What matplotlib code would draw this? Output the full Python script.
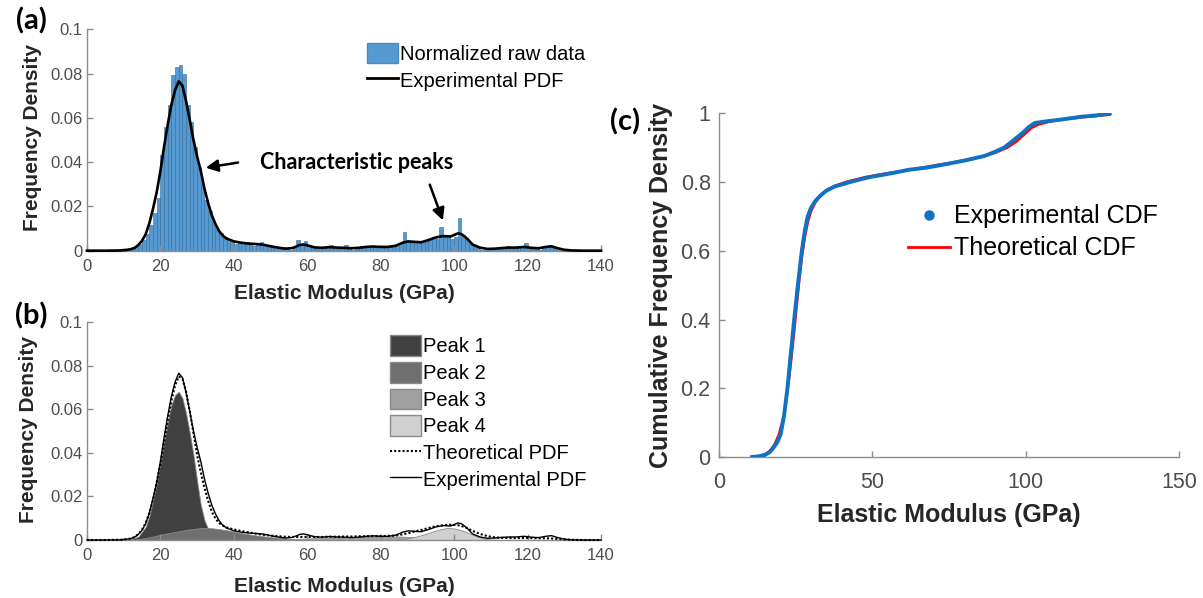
import numpy as np
import matplotlib
matplotlib.use("Agg")
import matplotlib.pyplot as plt              # noqa: E402
from matplotlib.lines import Line2D          # noqa: E402
from matplotlib.patches import Patch         # noqa: E402

plt.rcParams["font.family"] = ["Liberation Sans", "DejaVu Sans"]

AX_GRAY = "#8c8c8c"
TICK_GRAY = "#4d4d4d"
LABEL_GRAY = "#262626"
HIST_BLUE = "#5599d0"
CDF_BLUE = "#0f72c4"
PEAK_COLORS = ["#404040", "#6f6f6f", "#a0a0a0", "#d0d0d0"]

# ---- (a) normalized histogram, 1 GPa bins starting at 10 GPa ----
hist_start = 10
hist_heights = [
    0.0003, 0.0005, 0.001, 0.0018, 0.003, 0.005, 0.0075, 0.0115, 0.017, 0.024,   # 10-19
    0.043, 0.056, 0.066, 0.0795, 0.083, 0.084, 0.080, 0.066, 0.058, 0.047,        # 20-29
    0.038, 0.030, 0.023, 0.018, 0.013, 0.010, 0.008, 0.006, 0.005, 0.004,         # 30-39
    0.003, 0.004, 0.003, 0.004, 0.003, 0.002, 0.003, 0.004, 0.002, 0.002,         # 40-49
    0.002, 0.0015, 0.001, 0.0015, 0.001, 0.0005, 0.001, 0.005, 0.0025, 0.0045,    # 50-59
    0.002, 0.0015, 0.001, 0.0015, 0.001, 0.0015, 0.0025, 0.001, 0.001, 0.0015,    # 60-69
    0.0025, 0.001, 0.0005, 0.001, 0.001, 0.0015, 0.002, 0.0015, 0.002, 0.0015,    # 70-79
    0.002, 0.001, 0.0015, 0.002, 0.002, 0.003, 0.0085, 0.004, 0.0045, 0.004,      # 80-89
    0.0035, 0.004, 0.0045, 0.005, 0.006, 0.0055, 0.0105, 0.006, 0.0065, 0.0055,  # 90-99
    0.006, 0.0148, 0.007, 0.0055, 0.003, 0.002, 0.001, 0.0005, 0.0005, 0.0005,    # 100-109
    0.0005, 0.001, 0.0015, 0.001, 0.002, 0.001, 0.0015, 0.001, 0.0015, 0.0035,    # 110-119
    0.0015, 0.001, 0.001, 0.0005, 0.0015, 0.002, 0.002, 0.001, 0.0003,            # 120-128
]

# experimental PDF (same curve in a and b)
pdf_x = [0, 5, 9, 11, 12, 13, 14, 15, 16, 17, 18, 19, 20, 21, 22, 23, 24, 25, 26, 27,
         28, 29, 30, 31, 32, 33, 34, 35, 36, 37, 38, 40, 42, 44, 46, 48, 50, 52, 54, 56,
         58, 59, 60, 62, 64, 66, 68, 70, 72, 74, 76, 78, 80, 82, 84, 86, 87.5, 89, 91, 93,
         95, 97, 99, 101, 102, 103.5, 105, 107, 109, 111, 113, 115, 117, 119, 121, 123, 125,
         126.5, 128, 130, 132, 135, 140]
pdf_exp = [0, 0, 0.0001, 0.0004, 0.0007, 0.0013, 0.0026, 0.0045, 0.0075, 0.0125, 0.019,
           0.0265, 0.036, 0.047, 0.057, 0.066, 0.0725, 0.0765, 0.0745, 0.0675, 0.059, 0.050,
           0.0425, 0.036, 0.028, 0.0215, 0.016, 0.012, 0.0088, 0.0068, 0.0055, 0.0042, 0.0036,
           0.0032, 0.003, 0.0027, 0.002, 0.0014, 0.0009, 0.0012, 0.0026, 0.0028, 0.0024,
           0.0015, 0.0013, 0.0016, 0.0014, 0.0013, 0.0011, 0.0013, 0.0017, 0.0019, 0.0017,
           0.0017, 0.0022, 0.0036, 0.0042, 0.004, 0.0038, 0.0048, 0.006, 0.0066, 0.0064,
           0.0078, 0.0075, 0.0055, 0.0028, 0.0014, 0.0008, 0.0009, 0.0012, 0.0014, 0.0014,
           0.0017, 0.0013, 0.0011, 0.0017, 0.002, 0.0012, 0.0004, 0.0001, 0, 0]
pdf_theo = [0, 0, 0.0001, 0.0004, 0.0007, 0.0014, 0.0027, 0.0047, 0.0078, 0.0125, 0.0188,
            0.0265, 0.035, 0.045, 0.055, 0.064, 0.071, 0.075, 0.074, 0.068, 0.059, 0.049,
            0.039, 0.031, 0.024, 0.018, 0.013, 0.0098, 0.0078, 0.0066, 0.0058, 0.0048, 0.0041,
            0.0035, 0.0029, 0.0024, 0.002, 0.0017, 0.0015, 0.0014, 0.0014, 0.0014, 0.0014,
            0.0014, 0.0014, 0.0015, 0.0015, 0.0016, 0.0016, 0.0017, 0.0017, 0.0018, 0.0018,
            0.0019, 0.002, 0.0026, 0.0031, 0.0038, 0.0046, 0.0055, 0.0063, 0.0068, 0.007,
            0.0068, 0.0064, 0.0055, 0.0042, 0.0028, 0.0018, 0.0012, 0.001, 0.0009, 0.0009,
            0.0009, 0.0009, 0.0008, 0.0008, 0.0007, 0.0005, 0.0003, 0.0001, 0, 0]

# ---- (b) fitted peaks ----
peak1_x = [0, 10, 12, 14, 16, 17, 18, 19, 20, 21, 22, 23, 24, 25, 26, 27, 28, 29, 30, 31,
           32, 33, 34, 35, 37, 40, 140]
peak1_y = [0, 0, 0.0004, 0.0015, 0.006, 0.011, 0.018, 0.026, 0.035, 0.045, 0.054, 0.062,
           0.0665, 0.068, 0.065, 0.058, 0.049, 0.039, 0.027, 0.016, 0.009, 0.005, 0.0025,
           0.001, 0.0002, 0, 0]
peak2_x = [0, 12, 15, 18, 21, 24, 27, 30, 32, 34, 36, 38, 40, 43, 46, 50, 55, 60, 65, 140]
peak2_y = [0, 0, 0.0006, 0.0016, 0.0027, 0.0037, 0.0046, 0.0053, 0.0055, 0.0054, 0.005,
           0.0045, 0.0038, 0.0029, 0.0021, 0.0013, 0.0006, 0.0002, 0, 0]
peak3_x = [0, 50, 55, 60, 65, 70, 75, 80, 85, 88, 92, 96, 100, 105, 140]
peak3_y = [0, 0, 0.0003, 0.0007, 0.0011, 0.0013, 0.0015, 0.0016, 0.0016, 0.0014, 0.001,
           0.0005, 0.0002, 0, 0]
peak4_x = [0, 84, 87, 90, 92, 94, 96, 98, 100, 102, 104, 106, 108, 110, 113, 140]
peak4_y = [0, 0, 0.0006, 0.0017, 0.0027, 0.0038, 0.0048, 0.0055, 0.0053, 0.0045, 0.0031,
           0.0017, 0.0007, 0.0002, 0, 0]
peak_labels = ["Peak 1", "Peak 2", "Peak 3", "Peak 4"]

# ---- (c) cumulative curves ----
cdf_exp_x = [10.8, 13, 15, 16.5, 17.6, 19, 20.1, 21.2, 22.3, 23.4, 24.5, 25.7, 27.0, 28.0,
             28.9, 30.0, 31.4, 33.0, 35.0, 37.7, 42.7, 48.9, 56.5, 62, 67.8, 74, 80.3, 86.6,
             90, 92.9, 95.5, 97.9, 99.5, 101.0, 103.0, 107, 111.7, 118, 123, 127.4]
cdf_exp_y = [0, 0.002, 0.006, 0.014, 0.025, 0.043, 0.066, 0.12, 0.2, 0.3, 0.4, 0.5, 0.6,
             0.66, 0.7, 0.725, 0.745, 0.76, 0.775, 0.787, 0.80, 0.814, 0.826, 0.836, 0.842,
             0.852, 0.863, 0.876, 0.888, 0.9, 0.918, 0.935, 0.947, 0.96, 0.972, 0.977,
             0.982, 0.99, 0.994, 1.0]
cdf_theo_x = [10.8, 13, 15, 16.5, 18, 19.5, 21, 22, 23, 24, 25, 26, 27, 28, 29, 30, 31.5,
              33, 35, 38, 42, 48, 55, 62, 70, 78, 85, 90, 94, 97, 100, 102, 104, 108, 112,
              118, 123, 127.4]
cdf_theo_y = [0.0, 0.003, 0.008, 0.017, 0.035, 0.065, 0.115, 0.17, 0.24, 0.32, 0.41, 0.5,
              0.58, 0.64, 0.685, 0.715, 0.742, 0.76, 0.776, 0.79, 0.802, 0.815, 0.826,
              0.835, 0.848, 0.86, 0.873, 0.885, 0.9, 0.918, 0.942, 0.958, 0.967, 0.976,
              0.982, 0.988, 0.992, 0.996]

pdf_ticks = [0, 0.02, 0.04, 0.06, 0.08, 0.1]
pdf_ticklabels = ["0", "0.02", "0.04", "0.06", "0.08", "0.1"]
mod_ticks = [0, 20, 40, 60, 80, 100, 120, 140]
cdf_ticks = [0, 0.2, 0.4, 0.6, 0.8, 1.0]
cdf_ticklabels = ["0", "0.2", "0.4", "0.6", "0.8", "1"]
cdf_xticks = [0, 50, 100, 150]


def style_axes(ax, size, xpad, ypad):
    for side in ("top", "right"):
        ax.spines[side].set_visible(False)
    for side in ("left", "bottom"):
        ax.spines[side].set_color(AX_GRAY)
        ax.spines[side].set_linewidth(1.0)
    ax.tick_params(direction="in", length=4, width=1, color=AX_GRAY,
                   labelcolor=TICK_GRAY, labelsize=size)
    ax.tick_params(axis="x", pad=xpad)
    ax.tick_params(axis="y", pad=ypad)


fig = plt.figure(figsize=(12.03, 5.98), dpi=100)
ax_a = fig.add_axes([0.0723, 0.5808, 0.4273, 0.3702])
ax_b = fig.add_axes([0.0723, 0.0970, 0.4273, 0.3645])
ax_c = fig.add_axes([0.5977, 0.2358, 0.3824, 0.5747])

# (a)
edges = hist_start + np.arange(len(hist_heights))
ax_a.bar(edges, hist_heights, width=1.0, align="edge", color=HIST_BLUE,
         edgecolor="#2f6c9e", linewidth=0.4)
ax_a.plot(pdf_x, pdf_exp, color="k", lw=1.9, clip_on=False, zorder=3)
ax_a.annotate("", xy=(31.6, 0.0373), xytext=(41.9, 0.040),
              arrowprops=dict(arrowstyle="-|>", color="k", lw=1.8, mutation_scale=18))
ax_a.annotate("", xy=(97.2, 0.0125), xytext=(93.1, 0.031),
              arrowprops=dict(arrowstyle="-|>", color="k", lw=1.8, mutation_scale=18))
ax_a.text(47.1, 0.040, "Characteristic peaks", fontfamily="Lato", fontweight="bold",
          fontsize=15.5, va="center", ha="left")
leg_a = [Patch(facecolor=HIST_BLUE, edgecolor="#4a8cc0", label="Normalized raw data"),
         Line2D([], [], color="k", lw=2, label="Experimental PDF")]
ax_a.legend(handles=leg_a, loc="upper left", bbox_to_anchor=(0.545, 0.94), frameon=False,
            fontsize=14.5, borderaxespad=0, borderpad=0, handlelength=1.55,
            handleheight=1.2, handletextpad=0.1, labelspacing=0.3)

# (b)
for px, py, col in zip([peak1_x, peak2_x, peak3_x, peak4_x],
                       [peak1_y, peak2_y, peak3_y, peak4_y], PEAK_COLORS):
    ax_b.fill_between(px, 0, py, facecolor=col, edgecolor="#8a8a8a", linewidth=0.6)
ax_b.plot(pdf_x, pdf_theo, color="k", lw=1.5, ls=(0, (1, 1)), clip_on=False, zorder=3)
ax_b.plot(pdf_x, pdf_exp, color="k", lw=1.0, clip_on=False, zorder=3)
leg_b = [Patch(facecolor=c, edgecolor="#8a8a8a", label=l)
         for c, l in zip(PEAK_COLORS, peak_labels)]
leg_b += [Line2D([], [], color="k", lw=1.5, ls=(0, (1, 1)), label="Theoretical PDF"),
          Line2D([], [], color="k", lw=1.0, label="Experimental PDF")]
ax_b.legend(handles=leg_b, loc="upper left", bbox_to_anchor=(0.589, 0.94), frameon=False,
            fontsize=14.5, borderaxespad=0, borderpad=0, handlelength=1.55,
            handleheight=1.2, handletextpad=0.1, labelspacing=0.28)

for ax in (ax_a, ax_b):
    ax.set_xlim(0, 140)
    ax.set_ylim(0, 0.1)
    ax.set_xticks(mod_ticks)
    ax.set_yticks(pdf_ticks)
    ax.set_yticklabels(pdf_ticklabels)
    style_axes(ax, 12, 6, 3)
    ax.set_xlabel("Elastic Modulus (GPa)", fontsize=15, fontweight="bold", color=LABEL_GRAY)
    ax.set_ylabel("Frequency Density", fontsize=15, fontweight="bold", color=LABEL_GRAY)
ax_a.xaxis.set_label_coords(0.5, -0.15)
ax_a.yaxis.set_label_coords(-0.0875, 0.509)
ax_b.xaxis.set_label_coords(0.5, -0.168)
ax_b.yaxis.set_label_coords(-0.095, 0.505)

# (c)
ax_c.plot(cdf_theo_x, cdf_theo_y, color="#ff0000", lw=1.8, zorder=2)
ax_c.plot(cdf_exp_x, cdf_exp_y, color=CDF_BLUE, lw=2.8, zorder=3)
ax_c.set_xlim(0, 150)
ax_c.set_ylim(0, 1)
ax_c.set_xticks(cdf_xticks)
ax_c.set_yticks(cdf_ticks)
ax_c.set_yticklabels(cdf_ticklabels)
style_axes(ax_c, 15.5, 11, 6)
ax_c.set_xlabel("Elastic Modulus (GPa)", fontsize=18, fontweight="bold", color=LABEL_GRAY)
ax_c.set_ylabel("Cumulative Frequency Density", fontsize=18, fontweight="bold",
                color=LABEL_GRAY)
ax_c.xaxis.set_label_coords(0.5, -0.134)
ax_c.yaxis.set_label_coords(-0.1, 0.498)
leg_c = [Line2D([], [], color=CDF_BLUE, marker=".", ls="none", markersize=13,
                label="Experimental CDF"),
         Line2D([], [], color="#ff0000", lw=2, label="Theoretical CDF")]
ax_c.legend(handles=leg_c, loc="upper left", bbox_to_anchor=(0.41, 0.735), frameon=False,
            fontsize=18, borderaxespad=0, borderpad=0, handlelength=1.7,
            handletextpad=0.15, labelspacing=0.32)

for txt, x, y in [("(a)", 0.0262, 0.9657), ("(b)", 0.0258, 0.4716), ("(c)", 0.5195, 0.796)]:
    fig.text(x, y, txt, fontfamily="Lato", fontweight="bold", fontsize=21,
             ha="center", va="center")

fig.savefig("out.png", dpi=100)
